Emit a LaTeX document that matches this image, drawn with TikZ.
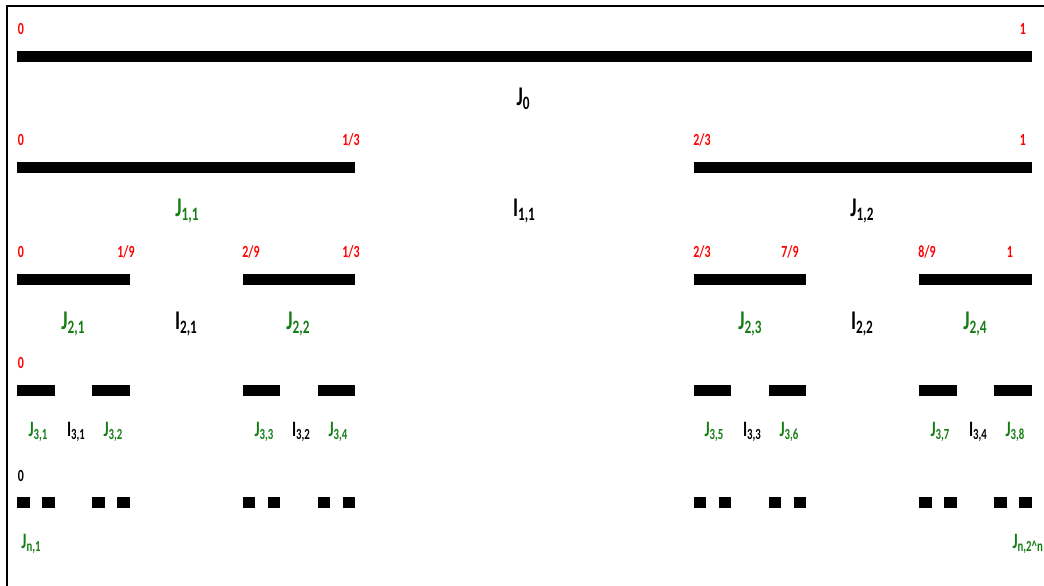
\documentclass[tikz,border=0pt]{standalone}
\usepackage{fontspec}
\setmainfont{Carlito}[FakeStretch=0.7]
\usepackage{tikz}
\definecolor{Vert}{RGB}{20,125,20}
\newcommand\Ind[1]{\raisebox{-0.35ex}{\scalebox{0.7}{#1}}}

\begin{document}
\begin{tikzpicture}[x=1pt,y=-1pt]
\tikzstyle{barre}=[fill=black]
\tikzstyle{borne}=[text=red,inner sep=0pt,font=\fontsize{17}{17}\selectfont\bfseries]
\tikzstyle{grand}=[inner sep=0pt,font=\fontsize{27}{27}\selectfont\bfseries]
\tikzstyle{petit}=[inner sep=0pt,font=\fontsize{22}{22}\selectfont\bfseries]
\tikzstyle{vert}=[text=Vert]
\def\Gauche{17}
\def\Unite{(1015/81)}
\def\Epaisseur{11}
\def\NiveauA{51}
\def\NiveauB{162}
\def\NiveauC{274}
\def\NiveauD{385}
\def\NiveauE{497}
\useasboundingbox (0,0) rectangle (1044,586);
% cadre
\draw[line width=2.5pt] (1044,6) -- (7,6) -- (7,586);
% barres
\fill[barre] ({\Gauche+(0)*\Unite},{\NiveauA}) rectangle ({\Gauche+(81)*\Unite},{\NiveauA+\Epaisseur});
\fill[barre] ({\Gauche+(0)*\Unite},{\NiveauB}) rectangle ({\Gauche+(27)*\Unite},{\NiveauB+\Epaisseur});
\fill[barre] ({\Gauche+(54)*\Unite},{\NiveauB}) rectangle ({\Gauche+(81)*\Unite},{\NiveauB+\Epaisseur});
\fill[barre] ({\Gauche+(0)*\Unite},{\NiveauC}) rectangle ({\Gauche+(9)*\Unite},{\NiveauC+\Epaisseur});
\fill[barre] ({\Gauche+(18)*\Unite},{\NiveauC}) rectangle ({\Gauche+(27)*\Unite},{\NiveauC+\Epaisseur});
\fill[barre] ({\Gauche+(54)*\Unite},{\NiveauC}) rectangle ({\Gauche+(63)*\Unite},{\NiveauC+\Epaisseur});
\fill[barre] ({\Gauche+(72)*\Unite},{\NiveauC}) rectangle ({\Gauche+(81)*\Unite},{\NiveauC+\Epaisseur});
\foreach \a in {0,6,18,24,54,60,72,78}
  \fill[barre] ({\Gauche+(\a)*\Unite},{\NiveauD}) rectangle ({\Gauche+(\a+3)*\Unite},{\NiveauD+\Epaisseur});
\foreach \a in {0,2,6,8,18,20,24,26,54,56,60,62,72,74,78,80}
  \fill[barre] ({\Gauche+(\a)*\Unite},{\NiveauE}) rectangle ({\Gauche+(\a+1)*\Unite},{\NiveauE+\Epaisseur});
% bornes
\node[borne] (zeroA) at (21,29) {0};
\node[borne] (unA) at (1023,29) {1};
\node[borne] (zeroB) at (21,140) {0};
\node[borne] (tiersB) at (351,140) {1/3};
\node[borne] (deuxtiersB) at (702,140) {2/3};
\node[borne] (unB) at (1023,140) {1};
\node[borne] (zeroC) at (21,252) {0};
\node[borne] (neufC) at (126,252) {1/9};
\node[borne] (deuxneufC) at (251,252) {2/9};
\node[borne] (tiersC) at (351,252) {1/3};
\node[borne] (deuxtiersC) at (702,252) {2/3};
\node[borne] (septneufC) at (790,252) {7/9};
\node[borne] (huitneufC) at (927,252) {8/9};
\node[borne] (unC) at (1010,252) {1};
\node[borne] (zeroD) at (21,363) {0};
\node[borne,text=black] (zeroE) at (21,476) {0};
% intervalles
\node[grand] (J0) at (523,99) {J\Ind{0}};
\node[grand,vert] (J11) at (187,211) {J\Ind{1,1}};
\node[grand] (I11) at (524,211) {I\Ind{1,1}};
\node[grand] (J12) at (862,211) {J\Ind{1,2}};
\node[grand,vert] (J21) at (73,324) {J\Ind{2,1}};
\node[grand] (I21) at (186,324) {I\Ind{2,1}};
\node[grand,vert] (J22) at (298,324) {J\Ind{2,2}};
\node[grand,vert] (J23) at (750,324) {J\Ind{2,3}};
\node[grand] (I22) at (862,324) {I\Ind{2,2}};
\node[grand,vert] (J24) at (975,324) {J\Ind{2,4}};
\node[petit,vert] (J31) at (38,432) {J\Ind{3,1}};
\node[petit] (I31) at (76,432) {I\Ind{3,1}};
\node[petit,vert] (J32) at (113,432) {J\Ind{3,2}};
\node[petit,vert] (J33) at (264,432) {J\Ind{3,3}};
\node[petit] (I32) at (301,432) {I\Ind{3,2}};
\node[petit,vert] (J34) at (338,432) {J\Ind{3,4}};
\node[petit,vert] (J35) at (714,432) {J\Ind{3,5}};
\node[petit] (I33) at (752,432) {I\Ind{3,3}};
\node[petit,vert] (J36) at (789,432) {J\Ind{3,6}};
\node[petit,vert] (J37) at (940,432) {J\Ind{3,7}};
\node[petit] (I34) at (978,432) {I\Ind{3,4}};
\node[petit,vert] (J38) at (1015,432) {J\Ind{3,8}};
\node[petit,vert] (Jn1) at (31,544) {J\Ind{n,1}};
\node[petit,vert,anchor=east] (Jnfin) at (1043,544) {J\Ind{n,2\textasciicircum n}};
\end{tikzpicture}
\end{document}
